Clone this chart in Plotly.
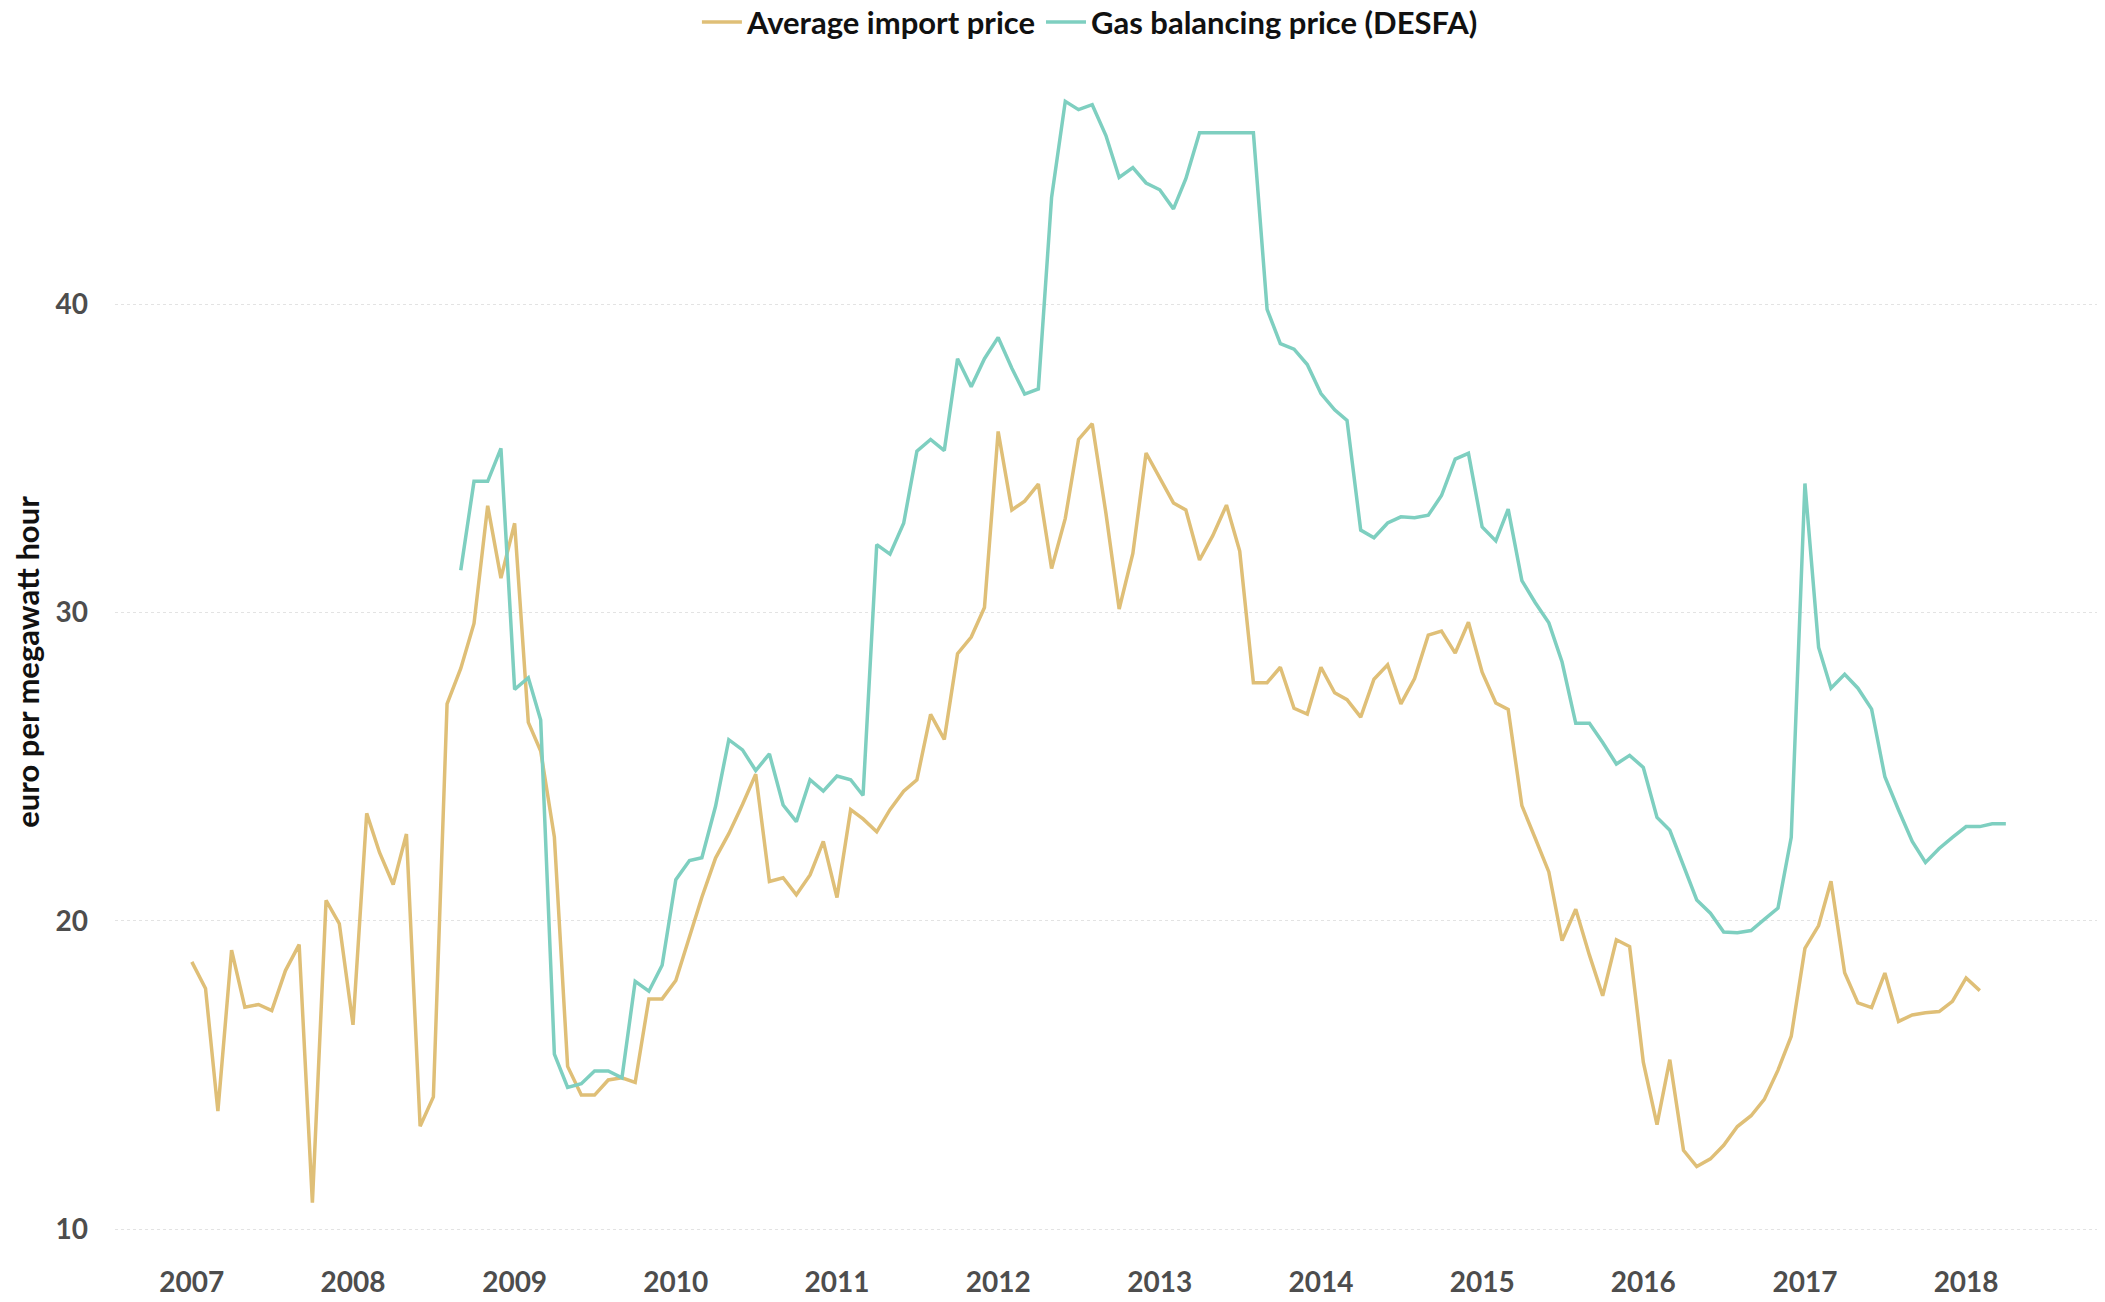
import pandas as pd
import plotly.graph_objects as go

# monthly values, euro per MWh
import_start = "2007-01-01"
import_price = [
    18.67, 17.81, 13.83, 19.05, 17.20, 17.29, 17.09, 18.39, 19.23, 10.86, 20.67, 19.91,  # 2007
    16.63, 23.49, 22.22, 21.18, 22.82, 13.34, 14.29, 27.04, 28.19, 29.65, 33.47, 31.12,  # 2008
    32.90, 26.44, 25.51, 22.72, 15.28, 14.35, 14.35, 14.84, 14.91, 14.76, 17.47, 17.47,  # 2009
    18.07, 19.48, 20.77, 22.04, 22.83, 23.78, 24.76, 21.28, 21.40, 20.85, 21.49, 22.58,  # 2010
    20.76, 23.61, 23.31, 22.89, 23.61, 24.21, 24.58, 26.70, 25.89, 28.67, 29.21, 30.17,  # 2011
    35.88, 33.33, 33.62, 34.17, 31.43, 33.06, 35.62, 36.13, 33.23, 30.12, 31.92, 35.18,  # 2012
    34.34, 33.56, 33.33, 31.71, 32.50, 33.49, 32.00, 27.73, 27.73, 28.23, 26.90, 26.71,  # 2013
    28.23, 27.40, 27.18, 26.61, 27.84, 28.31, 27.04, 27.86, 29.27, 29.40, 28.69, 29.69,  # 2014
    28.07, 27.07, 26.86, 23.74, 22.69, 21.59, 19.36, 20.38, 18.89, 17.57, 19.39, 19.17,  # 2015
    15.42, 13.39, 15.50, 12.56, 12.03, 12.28, 12.72, 13.33, 13.68, 14.21, 15.16, 16.26,  # 2016
    19.11, 19.85, 21.29, 18.32, 17.34, 17.19, 18.31, 16.74, 16.95, 17.02, 17.06, 17.39,  # 2017
    18.15, 17.74,                                                                        # 2018
]

balancing_start = "2008-09-01"
balancing_price = [
    31.38, 34.26, 34.26, 35.33,                                                          # 2008
    27.51, 27.89, 26.52, 15.68, 14.60, 14.72, 15.13, 15.13, 14.91, 18.04, 17.72, 18.56,  # 2009
    21.34, 21.96, 22.05, 23.72, 25.88, 25.55, 24.88, 25.42, 23.76, 23.22, 24.58, 24.21,  # 2010
    24.70, 24.58, 24.07, 32.21, 31.90, 32.90, 35.24, 35.62, 35.26, 38.24, 37.33, 38.24,  # 2011
    38.93, 37.93, 37.09, 37.26, 43.47, 46.59, 46.32, 46.48, 45.48, 44.12, 44.44, 43.94,  # 2012
    43.72, 43.10, 44.08, 45.57, 45.57, 45.57, 45.57, 45.57, 39.84, 38.73, 38.55, 38.05,  # 2013
    37.11, 36.58, 36.24, 32.68, 32.43, 32.91, 33.11, 33.08, 33.16, 33.80, 34.98, 35.17,  # 2014
    32.78, 32.33, 33.36, 31.04, 30.33, 29.67, 28.40, 26.41, 26.41, 25.79, 25.09, 25.37,  # 2015
    24.98, 23.36, 22.94, 21.82, 20.68, 20.25, 19.64, 19.62, 19.69, 20.05, 20.42, 22.71,  # 2016
    34.19, 28.87, 27.55, 28.00, 27.55, 26.87, 24.68, 23.60, 22.58, 21.90, 22.35, 22.71,  # 2017
    23.06, 23.06, 23.15, 23.15,                                                          # 2018
]

series_names = ["Average import price", "Gas balancing price (DESFA)"]
colors = ["#dfbf77", "#7ecfc0"]
y_ticks = [10, 20, 30, 40]

FONT = "Lato, 'Source Sans Pro', 'Noto Sans', sans-serif"

import_dates = pd.date_range(import_start, periods=len(import_price), freq="MS")
balancing_dates = pd.date_range(balancing_start, periods=len(balancing_price), freq="MS")

fig = go.Figure()
fig.add_trace(go.Scatter(x=import_dates, y=import_price, name=series_names[0],
                         mode="lines", line=dict(color=colors[0], width=3.5)))
fig.add_trace(go.Scatter(x=balancing_dates, y=balancing_price, name=series_names[1],
                         mode="lines", line=dict(color=colors[1], width=3.5)))

fig.update_xaxes(
    type="date", range=["2006-07-11", "2018-11-07"],
    tick0="2007-01-01", dtick="M12", tickformat="%Y",
    showgrid=False, zeroline=False, showline=False, ticks="", ticklabelstandoff=3,
    tickfont=dict(family=FONT, size=28, color="#4d4d4d", weight="bold"),
)
fig.update_yaxes(
    range=[9.0, 47.8], tickvals=y_ticks,
    showgrid=True, gridcolor="#e3e3e3", griddash="dot", gridwidth=1,
    zeroline=False, showline=False, ticks="", ticklabelstandoff=26,
    tickfont=dict(family=FONT, size=28, color="#4d4d4d", weight="bold"),
    title=dict(text="euro per megawatt hour", standoff=9,
               font=dict(family=FONT, size=31, color="#111111", weight="bold")),
)
fig.update_layout(
    width=2105, height=1302,
    margin=dict(l=107, r=10, t=56, b=50, autoexpand=False),
    plot_bgcolor="white", paper_bgcolor="white",
    font=dict(family=FONT),
    showlegend=True,
    legend=dict(orientation="h", x=0.4904, xanchor="center", y=0.989, yref="container",
                yanchor="middle", font=dict(family=FONT, size=31, color="#111111", weight="bold"),
                itemwidth=40, tracegroupgap=0),
)

fig.write_html("out.html")
